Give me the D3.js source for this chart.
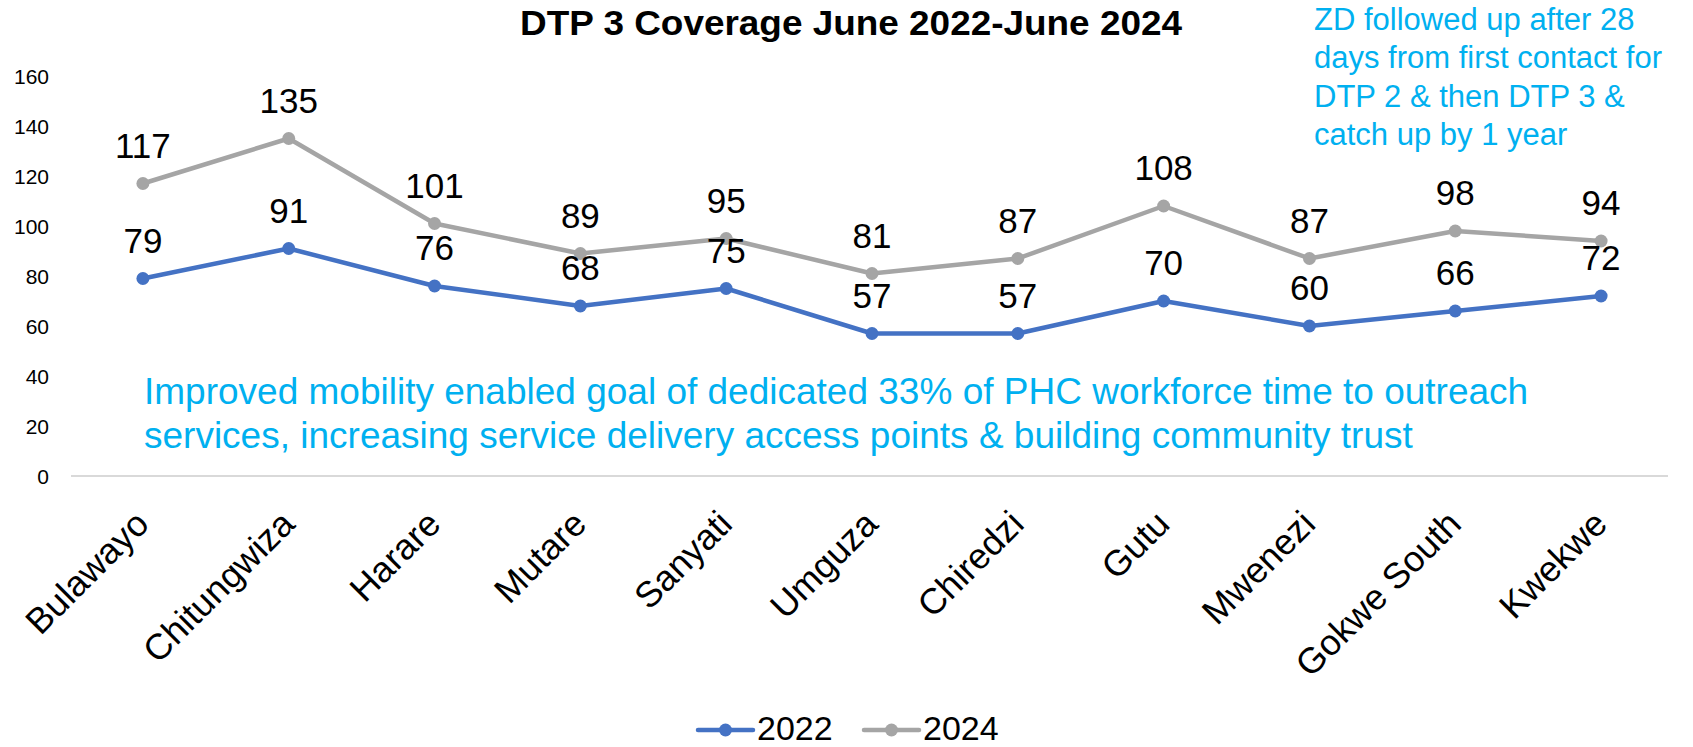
<!DOCTYPE html>
<html>
<head>
<meta charset="utf-8">
<script src="https://cdn.jsdelivr.net/npm/d3@7"></script>
<style>
  body { margin: 0; background: #fff; }
  text { font-family: Arial, "Liberation Sans", sans-serif; }
</style>
</head>
<body>
<svg id="chart"></svg>
<script>
// data
let districts = ["Bulawayo", "Chitungwiza", "Harare", "Mutare", "Sanyati", "Umguza",
  "Chiredzi", "Gutu", "Mwenezi", "Gokwe South", "Kwekwe"];
let values2022 = [79, 91, 76, 68, 75, 57, 57, 70, 60, 66, 72];
let values2024 = [117, 135, 101, 89, 95, 81, 87, 108, 87, 98, 94];
let yTicks = [0, 20, 40, 60, 80, 100, 120, 140, 160];
let seriesNames = ["2022", "2024"];

let title = "DTP 3 Coverage June 2022-June 2024";
let noteTop = ["ZD followed up after 28", "days from first contact for",
  "DTP 2 & then DTP 3 &", "catch up by 1 year"];
let noteMid = ["Improved mobility enabled goal of dedicated 33% of PHC workforce time to outreach",
  "services, increasing service delivery access points & building community trust"];

let width = 1693;
let height = 747;
let blue = "#4472C4";
let gray = "#A5A5A5";
let noteColor = "#00B0F0";

let svg = d3.select("#chart").attr("width", width).attr("height", height);

let x = d3.scaleBand().domain(districts).range([70, 1674]);
let y = d3.scaleLinear().domain([0, 160]).range([476, 76]);

// y tick labels
svg.selectAll(".ytick")
  .data(yTicks)
  .enter()
  .append("text")
  .attr("class", "ytick")
  .attr("x", 49)
  .attr("y", function (d) { return y(d) + 7.5; })
  .attr("text-anchor", "end")
  .attr("font-size", "21px")
  .attr("fill", "#000")
  .text(function (d) { return d; });

// baseline
svg.append("line")
  .attr("x1", 71).attr("x2", 1668)
  .attr("y1", y(0)).attr("y2", y(0))
  .attr("stroke", "#D9D9D9")
  .attr("stroke-width", 2);

// category labels, rotated
svg.selectAll(".xlab")
  .data(districts)
  .enter()
  .append("text")
  .attr("class", "xlab")
  .attr("text-anchor", "end")
  .attr("font-size", "36px")
  .attr("transform", function (d) {
    let cx = x(d) + x.bandwidth() / 2 + 8;
    return "translate(" + cx + "," + (y(0) + 50) + ") rotate(-45)";
  })
  .text(function (d) { return d; });

function drawSeries(vals, color) {
  let cx = function (d, i) { return x(districts[i]) + x.bandwidth() / 2; };
  let line = d3.line().x(cx).y(function (d) { return y(d); });
  svg.append("path")
    .datum(vals)
    .attr("d", line)
    .attr("fill", "none")
    .attr("stroke", color)
    .attr("stroke-width", 4.5)
    .attr("stroke-linejoin", "round");
  let g = svg.append("g");
  g.selectAll("circle")
    .data(vals)
    .enter()
    .append("circle")
    .attr("cx", cx)
    .attr("cy", function (d) { return y(d); })
    .attr("r", 6.5)
    .attr("fill", color);
  g.selectAll("text")
    .data(vals)
    .enter()
    .append("text")
    .attr("x", cx)
    .attr("y", function (d) { return y(d) - 26; })
    .attr("text-anchor", "middle")
    .attr("font-size", "35px")
    .attr("fill", "#000")
    .text(function (d) { return d; });
}
drawSeries(values2024, gray);
drawSeries(values2022, blue);

// title
svg.append("text")
  .attr("x", 851)
  .attr("y", 35)
  .attr("text-anchor", "middle")
  .attr("font-size", "35px")
  .attr("font-weight", "bold")
  .attr("textLength", 662)
  .attr("lengthAdjust", "spacingAndGlyphs")
  .attr("fill", "#000")
  .text(title);

// notes
svg.selectAll(".notetop")
  .data(noteTop)
  .enter()
  .append("text")
  .attr("class", "notetop")
  .attr("x", 1314)
  .attr("y", function (d, i) { return 30 + i * 38.3; })
  .attr("font-size", "31px")
  .attr("fill", noteColor)
  .text(function (d) { return d; });

svg.selectAll(".notemid")
  .data(noteMid)
  .enter()
  .append("text")
  .attr("class", "notemid")
  .attr("x", 144)
  .attr("y", function (d, i) { return 404 + i * 44; })
  .attr("font-size", "37px")
  .attr("fill", noteColor)
  .text(function (d) { return d; });

// legend
let legend = svg.append("g");
let legendX = [698, 864];
let legendColors = [blue, gray];
seriesNames.forEach(function (name, i) {
  let lx = legendX[i];
  legend.append("line")
    .attr("x1", lx).attr("x2", lx + 55)
    .attr("y1", 730).attr("y2", 730)
    .attr("stroke", legendColors[i])
    .attr("stroke-width", 4.5)
    .attr("stroke-linecap", "round");
  legend.append("circle")
    .attr("cx", lx + 27.5).attr("cy", 730).attr("r", 6.5)
    .attr("fill", legendColors[i]);
  legend.append("text")
    .attr("x", lx + 59)
    .attr("y", 740)
    .attr("font-size", "34px")
    .attr("fill", "#000")
    .text(name);
});
</script>
</body>
</html>
